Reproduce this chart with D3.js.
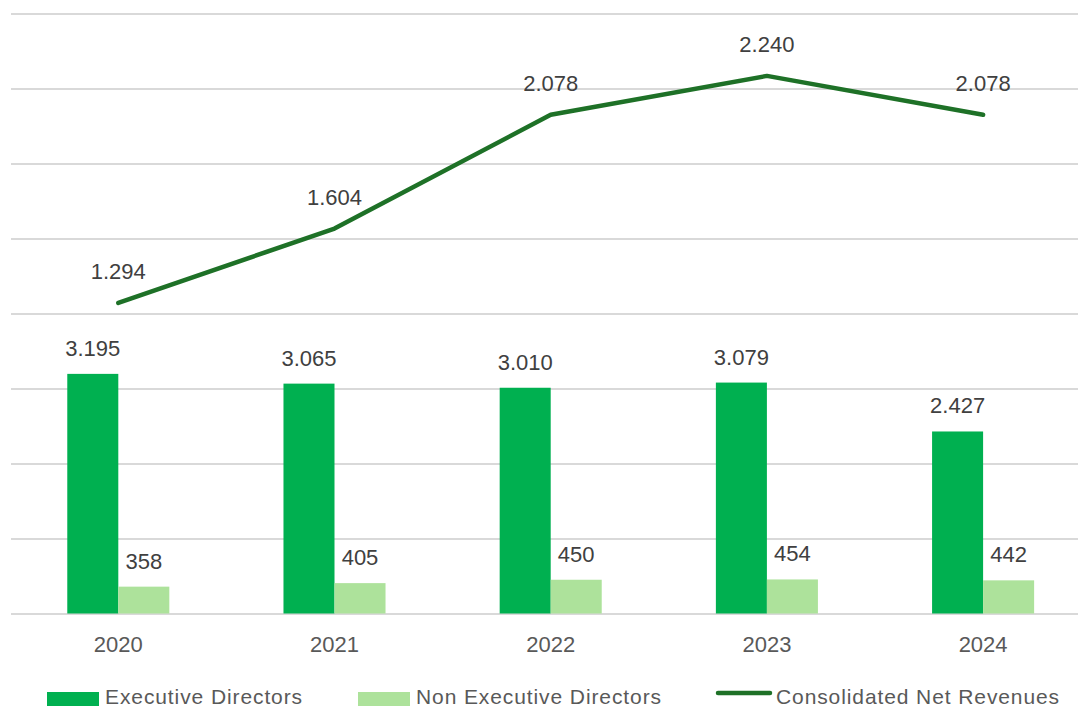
<!DOCTYPE html>
<html>
<head>
<meta charset="utf-8">
<script src="https://cdn.jsdelivr.net/npm/d3@7"></script>
<style>
  body { margin: 0; background: #fff; }
  svg { display: block; font-family: "Liberation Sans", Arial, sans-serif; }
</style>
</head>
<body>
<div id="chart"></div>
<script>
const years = ['2020', '2021', '2022', '2023', '2024'];
const executive = [3195, 3065, 3010, 3079, 2427];
const nonExecutive = [358, 405, 450, 454, 442];
const netRevenues = [1294, 1604, 2078, 2240, 2078];
const seriesNames = ['Executive Directors', 'Non Executive Directors', 'Consolidated Net Revenues'];

const width = 1078, height = 708;
const colors = { exec: '#00b050', nonExec: '#ade29b', line: '#1e7127' };

const fmt = d3.formatLocale({ decimal: ',', thousands: '.', grouping: [3], currency: ['', ''] }).format(',d');

const svg = d3.select('#chart').append('svg')
  .attr('width', width)
  .attr('height', height);

let x0 = d3.scaleBand()
  .domain(years)
  .range([10.2, 1091.2])
  .paddingInner(0.528)
  .paddingOuter(0.264);

let x1 = d3.scaleBand()
  .domain(['exec', 'nonExec'])
  .range([0, x0.bandwidth()]);

let y = d3.scaleLinear().domain([0, 8000]).range([613.5, 13.5]);
let y2 = d3.scaleLinear().domain([0, 2500]).range([613.5, 13.5]);

// gridlines
svg.append('g')
  .attr('transform', 'translate(11,0)')
  .call(d3.axisLeft(y).ticks(8).tickSize(-1067).tickFormat(''))
  .call(g => g.select('.domain').remove())
  .call(g => g.selectAll('.tick line').attr('stroke', '#d9d9d9').attr('stroke-width', 2));

const rows = years.map((yr, i) => ({ year: yr, exec: executive[i], nonExec: nonExecutive[i], rev: netRevenues[i] }));

// bars
const groups = svg.append('g')
  .selectAll('g')
  .data(rows)
  .join('g')
  .attr('transform', d => `translate(${x0(d.year)},0)`);

groups.selectAll('rect')
  .data(d => ['exec', 'nonExec'].map(k => ({ key: k, value: d[k] })))
  .join('rect')
  .attr('x', d => x1(d.key))
  .attr('width', x1.bandwidth())
  .attr('y', d => y(d.value))
  .attr('height', d => y(0) - y(d.value))
  .attr('fill', d => colors[d.key]);

groups.selectAll('text')
  .data(d => ['exec', 'nonExec'].map(k => ({ key: k, value: d[k] })))
  .join('text')
  .attr('x', d => x1(d.key) + x1.bandwidth() / 2)
  .attr('y', d => y(d.value) - 18)
  .attr('text-anchor', 'middle')
  .attr('font-size', 22)
  .attr('fill', '#404040')
  .text(d => fmt(d.value));

// x axis labels
svg.append('g')
  .attr('transform', 'translate(0,613.5)')
  .call(d3.axisBottom(x0).tickSize(0).tickPadding(23))
  .call(g => g.select('.domain').remove())
  .call(g => g.selectAll('text')
    .attr('font-size', 22)
    .attr('font-family', '"Liberation Sans", Arial, sans-serif')
    .attr('fill', '#595959'));

// revenue line
const cx = d => x0(d.year) + x0.bandwidth() / 2;
const line = d3.line()
  .x(cx)
  .y(d => y2(d.rev));

svg.append('path')
  .datum(rows)
  .attr('fill', 'none')
  .attr('stroke', colors.line)
  .attr('stroke-width', 4.5)
  .attr('stroke-linecap', 'round')
  .attr('stroke-linejoin', 'round')
  .attr('d', line);

svg.append('g')
  .selectAll('text')
  .data(rows)
  .join('text')
  .attr('x', cx)
  .attr('y', d => y2(d.rev) - 24)
  .attr('text-anchor', 'middle')
  .attr('font-size', 22)
  .attr('fill', '#404040')
  .text(d => fmt(d.rev));

// legend
const legend = svg.append('g')
  .attr('font-size', 21)
  .attr('letter-spacing', 0.9)
  .attr('fill', '#595959');

legend.append('rect').attr('x', 47).attr('y', 692).attr('width', 52).attr('height', 14).attr('fill', colors.exec);
legend.append('text').attr('x', 105).attr('y', 704.3).text(seriesNames[0]);

legend.append('rect').attr('x', 358).attr('y', 692).attr('width', 52).attr('height', 14).attr('fill', colors.nonExec);
legend.append('text').attr('x', 416).attr('y', 704.3).text(seriesNames[1]);

legend.append('line').attr('x1', 718).attr('x2', 770).attr('y1', 693).attr('y2', 693)
  .attr('stroke', colors.line).attr('stroke-width', 4.5).attr('stroke-linecap', 'round');
legend.append('text').attr('x', 776).attr('y', 704.3).text(seriesNames[2]);
</script>
</body>
</html>
